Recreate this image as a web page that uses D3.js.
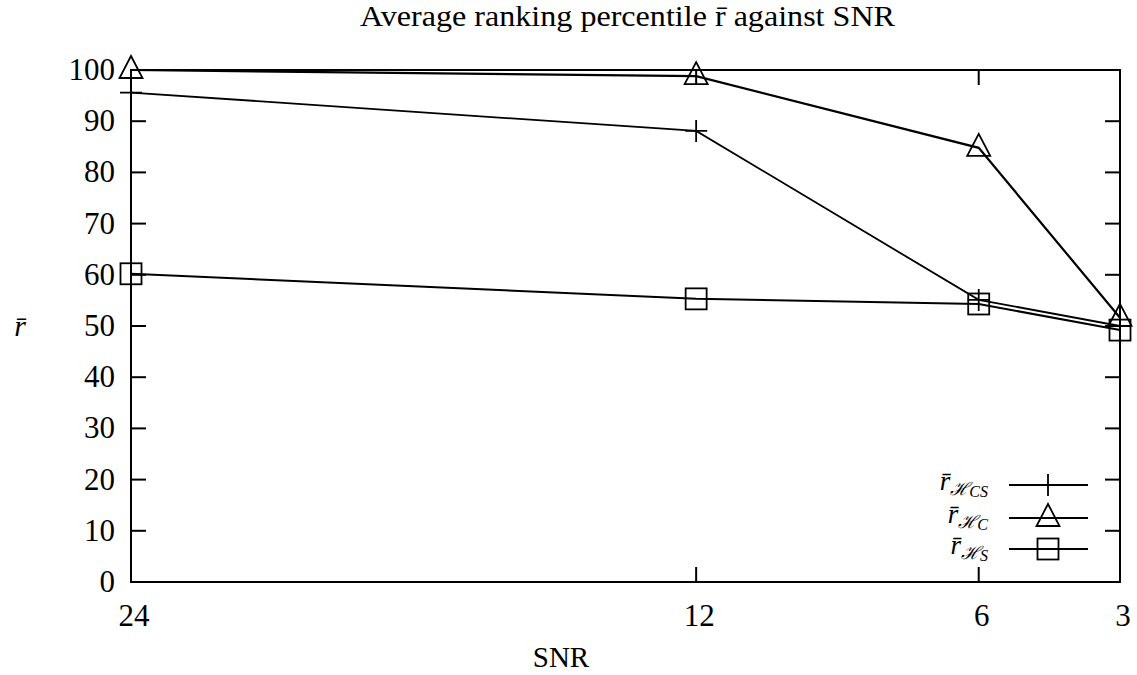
<!DOCTYPE html>
<html><head><meta charset="utf-8">
<script src="https://cdn.jsdelivr.net/npm/d3@7"></script>
<style>body{margin:0;background:#fff}svg{display:block}</style>
</head><body><svg id="c" width="1137" height="675"></svg>
<script>
const snr = [24, 12, 6, 3];
const rHCS = [95.6, 88.1, 55.1, 50.0];
const rHC = [100, 98.8, 84.8, 51.6];
const rHS = [60.2, 55.3, 54.3, 49.2];
const yTicks = [0,10,20,30,40,50,60,70,80,90,100];
const series = [
  {key:"CS", values:rHCS, marker:"plus", w:1.8},
  {key:"C", values:rHC, marker:"tri", w:2.2},
  {key:"S", values:rHS, marker:"sq", w:2}
];
const FF = "'Liberation Serif', 'Times New Roman', 'DejaVu Serif', serif";
const svg = d3.select("#c").attr("font-family", FF);
const L=131, R=1120, T=70, B=582;
const x = d3.scaleLinear().domain([24,3]).range([L,R]);
const y = d3.scaleLinear().domain([0,100]).range([B,T]);
const tl = 15;
const g = svg.append("g");
g.append("rect").attr("x",L).attr("y",T).attr("width",R-L).attr("height",B-T).attr("fill","none").attr("stroke","#000").attr("stroke-width",2);
yTicks.forEach(v=>{
  g.append("line").attr("x1",L).attr("x2",L+tl).attr("y1",y(v)).attr("y2",y(v)).attr("stroke","#000").attr("stroke-width",2);
  g.append("line").attr("x1",R).attr("x2",R-tl).attr("y1",y(v)).attr("y2",y(v)).attr("stroke","#000").attr("stroke-width",2);
  g.append("text").attr("x",L-16).attr("y",y(v)+10).attr("text-anchor","end").attr("font-family",FF).attr("font-size",31).text(v);
});
snr.forEach(v=>{
  g.append("line").attr("x1",x(v)).attr("x2",x(v)).attr("y1",B).attr("y2",B-tl).attr("stroke","#000").attr("stroke-width",2);
  g.append("line").attr("x1",x(v)).attr("x2",x(v)).attr("y1",T).attr("y2",T+tl).attr("stroke","#000").attr("stroke-width",2);
  g.append("text").attr("x",x(v)+3).attr("y",B+44).attr("text-anchor","middle").attr("font-family",FF).attr("font-size",31).text(v);
});
svg.append("text").attr("x",360).attr("y",26).attr("font-family",FF).attr("font-size",30)
  .attr("textLength",535).attr("lengthAdjust","spacingAndGlyphs")
  .text("Average ranking percentile r\u0304 against SNR");
svg.append("text").attr("x",561).attr("y",667).attr("text-anchor","middle").attr("font-family",FF).attr("font-size",29).text("SNR");
svg.append("text").attr("x",20).attr("y",336).attr("text-anchor","middle").attr("font-family",FF).attr("font-size",30).attr("font-style","italic").text("r\u0304");

function marker(sel, type, cx, cy){
  if(type==="plus"){
    sel.append("path").attr("d",`M${cx-11},${cy}H${cx+11}M${cx},${cy-11}V${cy+11}`).attr("stroke","#000").attr("stroke-width",1.8).attr("fill","none");
  } else if(type==="tri"){
    sel.append("path").attr("d",`M${cx},${cy-14}L${cx+11.5},${cy+8}L${cx-11.5},${cy+8}Z`).attr("stroke","#000").attr("stroke-width",1.8).attr("fill","none");
  } else {
    sel.append("rect").attr("x",cx-10.5).attr("y",cy-10.5).attr("width",21).attr("height",21).attr("stroke","#000").attr("stroke-width",1.8).attr("fill","none");
  }
}
const line = d3.line().x((d,i)=>x(snr[i])).y(d=>y(d));
series.forEach(s=>{
  g.append("path").attr("d",line(s.values)).attr("fill","none").attr("stroke","#000").attr("stroke-width",s.w);
  s.values.forEach((v,i)=>marker(g,s.marker,x(snr[i]),y(v)));
});
const ly=[485,518,549];
series.forEach((s,i)=>{
  g.append("line").attr("x1",1009).attr("x2",1088).attr("y1",ly[i]).attr("y2",ly[i]).attr("stroke","#000").attr("stroke-width",s.w);
  marker(g,s.marker,1048,ly[i]);
  const t=g.append("text").attr("x",988).attr("y",ly[i]+5).attr("text-anchor","end").attr("font-family",FF).attr("font-size",27);
  t.append("tspan").attr("font-style","italic").text("r\u0304");
  t.append("tspan").attr("dy",5).attr("font-size",18).attr("font-family","'DejaVu Serif', serif").attr("font-style","italic").text("\u210B");
  t.append("tspan").attr("dy",2).attr("font-size",16).attr("font-style","italic").text(s.key);
});
</script></body></html>
